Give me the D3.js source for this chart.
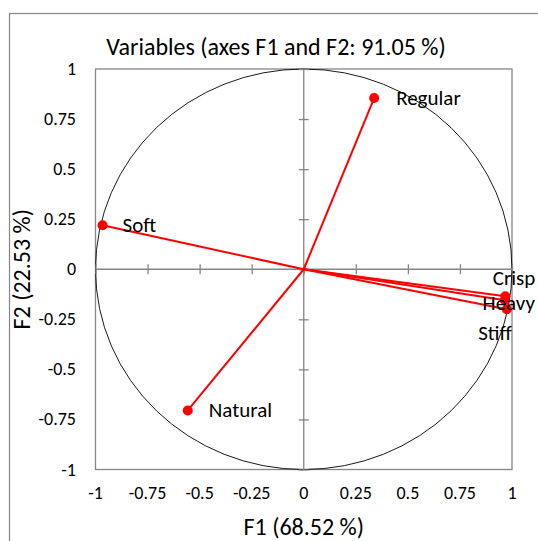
<!DOCTYPE html>
<html>
<head>
<meta charset="utf-8">
<script src="https://cdn.jsdelivr.net/npm/d3@7"></script>
<style>
  body { margin: 0; background: #fff; }
  text { font-family: Calibri, Carlito, "Open Sans", sans-serif; fill: #000; }
</style>
</head>
<body>
<div id="chart"></div>
<script>
// variables and their loadings on F1 / F2
var names = ["Regular", "Soft", "Natural", "Crisp", "Heavy", "Stiff"];
var f1    = [0.338, -0.966, -0.557, 0.968, 0.966, 0.975];
var f2    = [0.855, 0.22, -0.705, -0.135, -0.155, -0.2];
var ticks = [-1, -0.75, -0.5, -0.25, 0, 0.25, 0.5, 0.75, 1];

var W = 538, H = 541;
var svg = d3.select('#chart').append('svg').attr('width', W).attr('height', H);

// outer chart frame (goes past the picture on right and bottom)
svg.append('rect').attr('x', 9.5).attr('y', 13.5).attr('width', 600).attr('height', 600)
   .attr('fill', 'none').attr('stroke', '#868686').attr('stroke-width', 1.2);

var x = d3.scaleLinear().domain([-1, 1]).range([95.5, 512]);
var y = d3.scaleLinear().domain([-1, 1]).range([469.5, 69]);

var g = svg.append('g');

// plot border
g.append('rect').attr('x', x(-1)).attr('y', y(1))
 .attr('width', x(1) - x(-1)).attr('height', y(-1) - y(1))
 .attr('fill', 'none').attr('stroke', '#868686').attr('stroke-width', 1.3);

// unit circle
g.append('ellipse').attr('cx', x(0)).attr('cy', y(0))
 .attr('rx', x(1) - x(0)).attr('ry', y(-1) - y(0))
 .attr('fill', 'none').attr('stroke', '#000').attr('stroke-width', 0.9);

// axes through origin
var xAxis = d3.axisBottom(x).tickValues(ticks).tickFormat('').tickSize(10).tickSizeOuter(0);
g.append('g').attr('transform', 'translate(0,' + (y(0) - 5) + ')').call(xAxis)
 .call(function(a) { a.select('.domain').remove(); a.selectAll('line').attr('stroke', '#868686').attr('stroke-width', 1.3); });
g.append('line').attr('x1', x(-1)).attr('x2', x(1)).attr('y1', y(0)).attr('y2', y(0))
 .attr('stroke', '#868686').attr('stroke-width', 1.3);

var yAxis = d3.axisRight(y).tickValues(ticks).tickFormat('').tickSize(10).tickSizeOuter(0);
g.append('g').attr('transform', 'translate(' + (x(0) - 5) + ',0)').call(yAxis)
 .call(function(a) { a.select('.domain').remove(); a.selectAll('line').attr('stroke', '#868686').attr('stroke-width', 1.3); });
g.append('line').attr('x1', x(0)).attr('x2', x(0)).attr('y1', y(1)).attr('y2', y(-1))
 .attr('stroke', '#868686').attr('stroke-width', 1.3);

// tick labels
var fmt = function(d) { return d === 0 ? '0' : String(d); };
g.selectAll('.xl').data(ticks).enter().append('text')
 .attr('x', function(d) { return x(d); }).attr('y', 499)
 .attr('text-anchor', 'middle').style('font-size', '18px').text(fmt);
g.selectAll('.yl').data(ticks).enter().append('text')
 .attr('x', 76).attr('y', function(d) { return y(d) + 6; })
 .attr('text-anchor', 'end').style('font-size', '18px').text(fmt);

// vectors
var pts = names.map(function(n, i) { return { name: n, f1: f1[i], f2: f2[i] }; });
g.selectAll('.vec').data(pts).enter().append('line')
 .attr('x1', x(0)).attr('y1', y(0))
 .attr('x2', function(d) { return x(d.f1); }).attr('y2', function(d) { return y(d.f2); })
 .attr('stroke', '#ff0000').attr('stroke-width', 2);
g.selectAll('.dot').data(pts).enter().append('circle')
 .attr('cx', function(d) { return x(d.f1); }).attr('cy', function(d) { return y(d.f2); })
 .attr('r', 5).attr('fill', '#ff0000');

// labels
var lab = {
  Regular: [22, 7, 'start'],
  Soft:    [20, 7, 'start'],
  Natural: [21, 7, 'start'],
  Crisp:   [30, -11, 'end'],
  Heavy:   [30, 10, 'end'],
  Stiff:   [5, 31, 'end']
};
g.selectAll('.lab').data(pts).enter().append('text')
 .attr('x', function(d) { return x(d.f1) + lab[d.name][0]; })
 .attr('y', function(d) { return y(d.f2) + lab[d.name][1]; })
 .attr('text-anchor', function(d) { return lab[d.name][2]; })
 .style('font-size', '21px').text(function(d) { return d.name; });

// titles
svg.append('text').attr('x', 276).attr('y', 55).attr('text-anchor', 'middle')
   .style('font-size', '24px').text('Variables (axes F1 and F2: 91.05 %)');
svg.append('text').attr('x', x(0)).attr('y', 535).attr('text-anchor', 'middle')
   .style('font-size', '24px').text('F1 (68.52 %)');
svg.append('text').attr('transform', 'translate(30,' + y(0) + ') rotate(-90)')
   .attr('text-anchor', 'middle').style('font-size', '24px').text('F2 (22.53 %)');
</script>
</body>
</html>
